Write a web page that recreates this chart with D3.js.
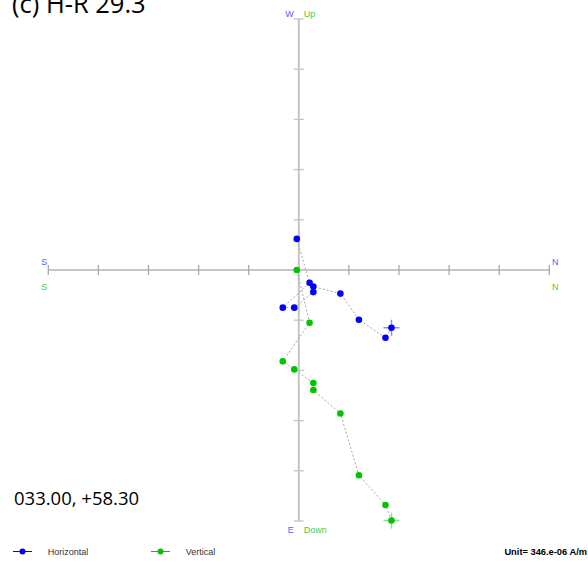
<!DOCTYPE html>
<html>
<head>
<meta charset="utf-8">
<script src="https://cdn.jsdelivr.net/npm/d3@7"></script>
<style>
  html, body { margin: 0; padding: 0; background: #fff; }
  svg { display: block; }
</style>
</head>
<body>
<svg id="chart" width="588" height="562"></svg>
<script>
// Demagnetisation steps, in plot units (1 tick = 1 unit)
const steps = ["NRM", "S2", "S3", "S4", "S5", "S6", "S7", "S8", "S9", "S10"];
const north = [1.85, 1.73, 1.20, 0.83, 0.29, 0.29, -0.09, -0.32, 0.215, -0.04];
const east  = [1.15, 1.35, 0.99, 0.47, 0.33, 0.44, 0.75, 0.75, 0.255, -0.62];
const down  = [4.99, 4.68, 4.09, 2.86, 2.39, 2.25, 1.98, 1.82, 1.05, 0.0];
const tickValues = [-5, -4, -3, -2, -1, 1, 2, 3, 4, 5];

const title = "(c) H-R 29.3";
const directionLabel = "033.00, +58.30";
const unitLabel = "Unit= 346.e-06 A/m";

const blue = "#0000ff", green = "#00c400";
const sans = "'Liberation Sans', Arial, sans-serif";

const svg = d3.select("#chart");

const x = d3.scaleLinear().domain([-5, 5]).range([48.3, 549.3]);
const y = d3.scaleLinear().domain([-5, 5]).range([19, 521]); // positive = E / Down

// Axes
const g = svg.append("g");
g.append("line").attr("x1", x(0)).attr("x2", x(0)).attr("y1", y(-5)).attr("y2", y(5))
  .attr("stroke", "#c4c4c4").attr("stroke-width", 2);
g.selectAll(".vt").data(tickValues).enter().append("line")
  .attr("x1", x(0) - 5).attr("x2", x(0) + 5).attr("y1", d => y(d)).attr("y2", d => y(d))
  .attr("stroke", "#c4c4c4").attr("stroke-width", 1.3);
g.append("line").attr("x1", x(-5)).attr("x2", x(5)).attr("y1", y(0)).attr("y2", y(0))
  .attr("stroke", "#8c8c8c").attr("stroke-width", 1);
g.selectAll(".ht").data(tickValues).enter().append("line")
  .attr("x1", d => x(d)).attr("x2", d => x(d)).attr("y1", y(0) - 5).attr("y2", y(0) + 5)
  .attr("stroke", "#a8a8a8").attr("stroke-width", 1.3);

// Axis end labels
const lab = (t, px, py, c, anchor) => svg.append("text").text(t).attr("x", px).attr("y", py)
  .attr("fill", c).attr("font-family", sans).attr("font-size", 9).attr("text-anchor", anchor || "start");
const lb = "#5a5aff", lg = "#44cc44";
lab("W", x(0) - 5, 17, lb, "end");
lab("Up", x(0) + 5, 17, lg);
lab("E", x(0) - 5, 533, lb, "end");
lab("Down", x(0) + 5, 533, lg);
lab("S", x(-5) - 4, 265, lb, "middle");
lab("S", x(-5) - 4, 290, lg, "middle");
lab("N", x(5) + 6, 265, lb, "middle");
lab("N", x(5) + 6, 290, lg, "middle");

// Projection paths
const idx = d3.range(steps.length);
const line = d3.line();
svg.append("path").attr("d", line(idx.map(i => [x(north[i]), y(east[i])])))
  .attr("fill", "none").attr("stroke", "#a8a8a8").attr("stroke-width", 1).attr("stroke-dasharray", "2,2");
svg.append("path").attr("d", line(idx.map(i => [x(north[i]), y(down[i])])))
  .attr("fill", "none").attr("stroke", "#a8a8a8").attr("stroke-width", 1).attr("stroke-dasharray", "2,2");

// First-step crosses
const cross = (cx, cy, c) => {
  svg.append("line").attr("x1", cx - 8).attr("x2", cx + 8).attr("y1", cy).attr("y2", cy)
    .attr("stroke", c).attr("stroke-width", 1.5).attr("opacity", 0.45);
  svg.append("line").attr("x1", cx).attr("x2", cx).attr("y1", cy - 8).attr("y2", cy + 8)
    .attr("stroke", c).attr("stroke-width", 1.5).attr("opacity", 0.45);
};
cross(x(north[0]), y(east[0]), blue);
cross(x(north[0]), y(down[0]), green);

svg.append("g").selectAll("circle").data(idx).enter().append("circle")
  .attr("cx", i => x(north[i])).attr("cy", i => y(down[i])).attr("r", 3.3).attr("fill", green);
svg.append("g").selectAll("circle").data(idx).enter().append("circle")
  .attr("cx", i => x(north[i])).attr("cy", i => y(east[i])).attr("r", 3.3).attr("fill", blue);

// Title and direction
svg.append("text").text(title).attr("x", 12).attr("y", 13)
  .attr("font-family", "'Open Sans', 'Noto Sans', sans-serif").attr("font-size", 25.5).attr("fill", "#000");
svg.append("text").text(directionLabel).attr("x", 14).attr("y", 505)
  .attr("font-family", "'Open Sans', 'Noto Sans', sans-serif").attr("font-size", 18.5).attr("fill", "#000");

// Legend
const legend = [["Horizontal", blue, 13, 47.7], ["Vertical", green, 151, 185.7]];
legend.forEach(([name, c, lx, tx]) => {
  svg.append("line").attr("x1", lx).attr("x2", lx + 19).attr("y1", 551.5).attr("y2", 551.5)
    .attr("stroke", c).attr("stroke-width", 1);
  svg.append("circle").attr("cx", lx + 9.5).attr("cy", 551.5).attr("r", 3).attr("fill", c);
  svg.append("text").text(name).attr("x", tx).attr("y", 555).attr("font-family", sans)
    .attr("font-size", 9).attr("fill", "#333");
});
svg.append("text").text(unitLabel).attr("x", 587).attr("y", 555).attr("text-anchor", "end")
  .attr("font-family", sans).attr("font-size", 9.3).attr("font-weight", "bold").attr("fill", "#000");
</script>
</body>
</html>
